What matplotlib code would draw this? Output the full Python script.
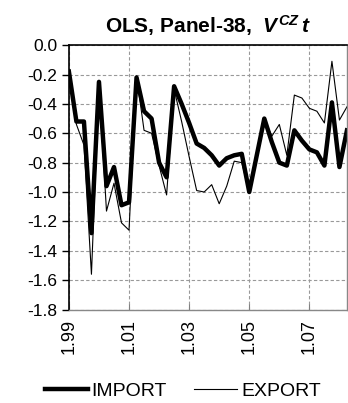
import matplotlib
matplotlib.use("Agg")
import matplotlib.pyplot as plt
import numpy as np

# quarterly values, 1999Q1 .. 2008Q2 (38 quarters)
import_vals = [-0.18, -0.52, -0.52, -1.28, -0.25, -0.96, -0.83, -1.09, -1.07,
               -0.22, -0.45, -0.50, -0.80, -0.90, -0.28, -0.40, -0.53, -0.67,
               -0.70, -0.75, -0.82, -0.77, -0.75, -0.74, -1.00, -0.75, -0.50,
               -0.66, -0.80, -0.82, -0.58, -0.65, -0.71, -0.73, -0.82, -0.39,
               -0.83, -0.58]
export_vals = [-0.19, -0.54, -0.68, -1.56, -0.26, -1.13, -0.94, -1.21, -1.26,
               -0.21, -0.58, -0.60, -0.82, -1.02, -0.30, -0.52, -0.76, -0.99,
               -1.00, -0.95, -1.08, -0.96, -0.79, -0.80, -1.00, -0.75, -0.50,
               -0.62, -0.54, -0.75, -0.34, -0.36, -0.43, -0.45, -0.53, -0.11,
               -0.51, -0.42]
tick_pos = [0, 8, 16, 24, 32]
tick_labels = ["1.99", "1.01", "1.03", "1.05", "1.07"]
yticks = [-1.8, -1.6, -1.4, -1.2, -1.0, -0.8, -0.6, -0.4, -0.2, 0.0]
ytick_labels = ["-1.8", "-1.6", "-1.4", "-1.2", "-1.0", "-0.8", "-0.6", "-0.4", "-0.2", "0.0"]

plt.rcParams['font.family'] = ['Liberation Sans', 'DejaVu Sans']
plt.rcParams['mathtext.fontset'] = 'custom'
plt.rcParams['mathtext.it'] = 'Liberation Sans:italic:bold'
plt.rcParams['mathtext.rm'] = 'Liberation Sans:bold'

fig = plt.figure(figsize=(3.48, 4.03), dpi=100)
ax = fig.add_axes([0.198, 0.232, 0.799, 0.656])

x = np.arange(len(import_vals))
ax.plot(x, import_vals, color='black', lw=3.2, label='IMPORT')
ax.plot(x, export_vals, color='black', lw=0.8, label='EXPORT')

ax.set_xlim(0, 37)
ax.set_ylim(-1.8, 0.0)
ax.set_yticks(yticks)
ax.set_yticklabels(ytick_labels, fontsize=12.5)
ax.set_xticks(tick_pos)
ax.set_xticklabels(tick_labels, rotation=90, fontsize=13)
ax.tick_params(axis='y', direction='out', length=5, width=1)
ax.tick_params(axis='x', direction='in', length=4, width=0.8, color='gray', pad=7)

ax.grid(True, color='#999999', linestyle='--', linewidth=0.8, dashes=(3, 2))
for s in ['left', 'top']:
    ax.spines[s].set_color('black')
    ax.spines[s].set_linewidth(1.2)
for s in ['bottom', 'right']:
    ax.spines[s].set_color('#888888')
    ax.spines[s].set_linewidth(1.0)

ax.set_title(r"OLS, Panel-38,  $V^{CZ}\,t$", fontsize=15, fontweight='bold', pad=9)

ax.legend(loc='upper center', bbox_to_anchor=(0.41, -0.21), ncol=2, frameon=False,
          fontsize=14, handlelength=2.2, handletextpad=0.2, columnspacing=1.4)

fig.savefig("out.png", dpi=100)
